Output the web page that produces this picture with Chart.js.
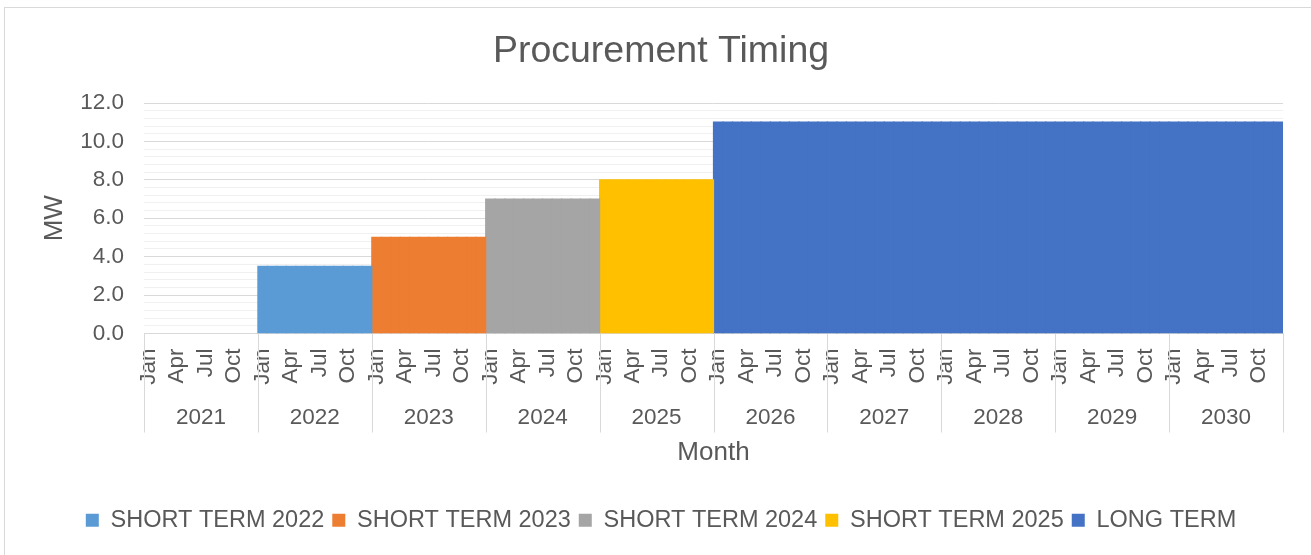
<!DOCTYPE html>
<html>
<head>
<meta charset="utf-8">
<script src="https://cdn.jsdelivr.net/npm/chart.js@4/dist/chart.umd.min.js"></script>
<style>
  body { margin: 0; background: #fff; }
  #wrap { position: relative; width: 1311px; height: 555px; }
  #frame { position: absolute; left: 4px; top: 7px; width: 1330px; height: 570px;
           border: 1px solid #d9d9d9; box-sizing: border-box; pointer-events: none; }
</style>
</head>
<body>
<div id="wrap"><canvas id="chart"></canvas><div id="frame"></div></div>
<script>
const years = [2021, 2022, 2023, 2024, 2025, 2026, 2027, 2028, 2029, 2030];
const monthNames = ['Jan', 'Feb', 'Mar', 'Apr', 'May', 'Jun', 'Jul', 'Aug', 'Sep', 'Oct', 'Nov', 'Dec'];
const seriesNames = ['SHORT TERM 2022', 'SHORT TERM 2023', 'SHORT TERM 2024', 'SHORT TERM 2025', 'LONG TERM'];
const seriesValues = [3.5, 5.0, 7.0, 8.0, 11.0];
const seriesYears = [[2022], [2023], [2024], [2025], [2026, 2027, 2028, 2029, 2030]];
const seriesColors = ['#5B9BD5', '#ED7D31', '#A5A5A5', '#FFC000', '#4472C4'];

const textColor = '#595959';
Chart.defaults.font.family = '"Liberation Sans", Arial, sans-serif';
Chart.defaults.color = textColor;

// one category per month
const monthLabels = [];
const monthYear = [];
years.forEach(y => monthNames.forEach(m => { monthLabels.push(m); monthYear.push(y); }));

const datasets = seriesNames.map((name, i) => ({
    label: name,
    data: monthYear.map(y => seriesYears[i].includes(y) ? seriesValues[i] : null),
    backgroundColor: seriesColors[i],
    borderWidth: 0,
    inflateAmount: 0.6,
    barPercentage: 1,
    categoryPercentage: 1
}));

// year separator lines under the plot
const separators = {
    id: 'separators',
    afterDraw(chart) {
        const x = chart.scales.x;
        const x2 = chart.scales.x2;
        const ctx = chart.ctx;
        ctx.save();
        ctx.strokeStyle = '#d9d9d9';
        ctx.lineWidth = 1;
        for (let k = 0; k <= years.length; k++) {
            const px = Math.round(x.getPixelForDecimal(k / years.length)) + 0.5;
            ctx.beginPath();
            ctx.moveTo(px, chart.chartArea.bottom);
            ctx.lineTo(px, x2.top + 32);
            ctx.stroke();
        }
        ctx.restore();
    }
};

new Chart(document.getElementById('chart'), {
    type: 'bar',
    data: { labels: monthLabels, datasets: datasets },
    plugins: [separators],
    options: {
        responsive: true,
        maintainAspectRatio: false,
        animation: false,
        layout: { padding: { left: 39, right: 28, top: 0, bottom: 13 } },
        plugins: {
            title: {
                display: true,
                text: 'Procurement Timing',
                color: textColor,
                font: { size: 37.5, weight: 'normal' },
                padding: { top: 29, bottom: 29 }
            },
            legend: {
                position: 'bottom',
                labels: {
                    boxWidth: 13,
                    boxHeight: 13,
                    padding: 8,
                    color: textColor,
                    font: { size: 23.5 }
                }
            },
            tooltip: { enabled: false }
        },
        scales: {
            x: {
                stacked: true,
                weight: 0,
                grid: { display: false, drawTicks: false },
                border: { display: true, color: '#d9d9d9' },
                ticks: {
                    autoSkip: false,
                    minRotation: 90,
                    maxRotation: 90,
                    padding: 15,
                    font: { size: 22.5 },
                    callback: (v, i) => (i % 3 === 0 ? monthLabels[i] : '')
                },
                afterFit: s => { s.height = 67; s.paddingLeft = 0; s.paddingRight = 0; }
            },
            x2: {
                type: 'category',
                labels: years.map(String),
                position: 'bottom',
                weight: 1,
                grid: { display: false, drawTicks: false },
                border: { display: false },
                ticks: { padding: 4, font: { size: 22.5 } },
                title: {
                    display: true,
                    text: 'Month',
                    color: textColor,
                    font: { size: 26 },
                    padding: { top: 0, bottom: 32 }
                },
                afterFit: s => { s.height = 100; s.paddingLeft = 0; s.paddingRight = 0; }
            },
            y: {
                stacked: true,
                min: 0,
                max: 12,
                grid: { color: '#d9d9d9', drawTicks: false },
                border: { display: false },
                ticks: {
                    stepSize: 2,
                    padding: 20,
                    font: { size: 22.5 },
                    callback: v => v.toFixed(1)
                },
                title: {
                    display: true,
                    text: 'MW',
                    color: textColor,
                    font: { size: 26 },
                    padding: { top: 0, bottom: 0 }
                },
                afterFit: s => { s.width = 105; }
            },
            y2: {
                position: 'right',
                min: 0,
                max: 12,
                grid: {
                    drawTicks: false,
                    color: c => (Math.round(c.tick.value * 10) % 20 === 0 ? 'rgba(0,0,0,0)' : '#f0f0f0')
                },
                border: { display: false },
                ticks: { display: false, stepSize: 0.4, maxTicksLimit: 100 },
                afterFit: s => { s.width = 0; }
            }
        }
    }
});
</script>
</body>
</html>
